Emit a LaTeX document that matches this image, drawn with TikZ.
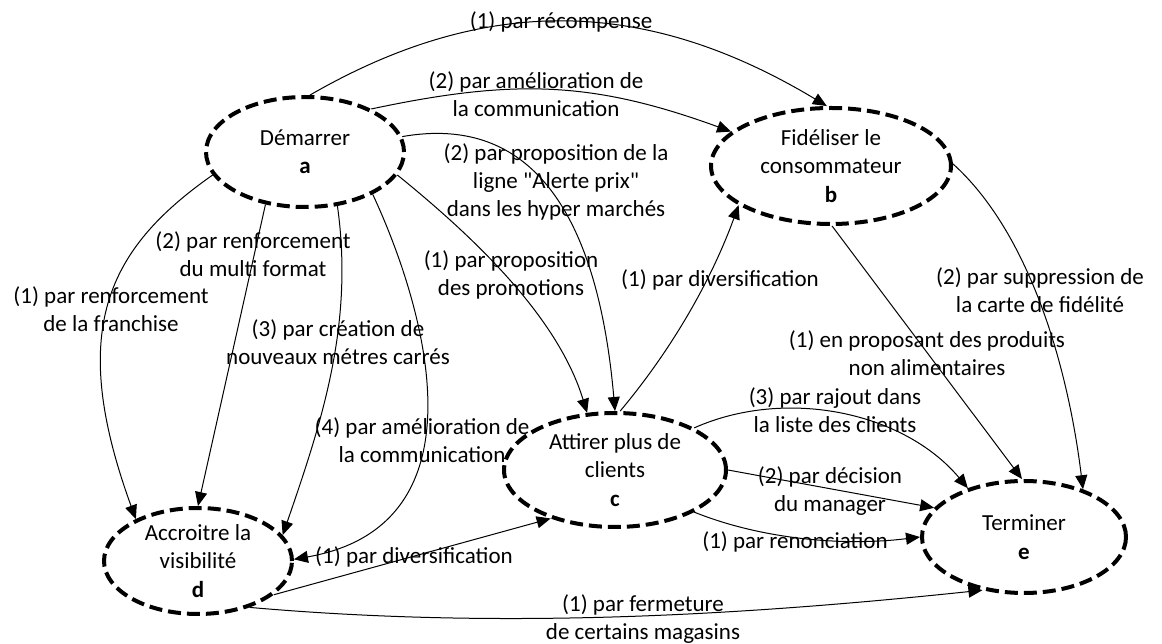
\documentclass[tikz,border=0pt]{standalone}
\usepackage{fontspec}
\setmainfont{Carlito}
\usetikzlibrary{arrows.meta, shapes.geometric}
% straight double quote (bypasses the TeX quote mapping)
\newcommand{\sq}{\XeTeXglyph\XeTeXcharglyph"22 }

\begin{document}
\begin{tikzpicture}[x=0.5pt, y=0.5pt,
    state/.style={ellipse, draw, line width=2pt, dash pattern=on 6.5pt off 3pt,
      inner sep=0pt, align=center, font=\fontsize{11.5pt}{14.2pt}\selectfont},
    lbl/.style={align=center, inner sep=0pt, font=\fontsize{11.5pt}{14.2pt}\selectfont},
    arr/.style={-{Triangle[length=7pt, width=6pt]}, line width=0.5pt}]
  \useasboundingbox (0,0) rectangle (1162,643);
  % states
  \node[state, minimum width=99pt, minimum height=55pt] (a) at (305,491) {Démarrer\\\textbf{a}};
  \node[state, minimum width=120pt, minimum height=58pt] (b) at (831,477) {Fidéliser le\\consommateur\\\textbf{b}};
  \node[state, minimum width=111pt, minimum height=57pt] (c) at (615,173) {Attirer plus de\\clients\\\textbf{c}};
  \node[state, minimum width=94pt, minimum height=53pt] (d) at (198,82) {Accroitre la\\visibilité\\\textbf{d}};
  \node[state, minimum width=102pt, minimum height=56pt] (e) at (1024,106) {Terminer\\\textbf{e}};
  % transitions from a
  \draw[arr] (a.85) .. controls +(30:207) and +(149:207) .. (b.94)
    node[lbl] (r1) at (561,621) {(1) par récompense};
  \draw[arr] (a.33) .. controls +(12:147) and +(160:147) .. (b.161)
    node[lbl] (r2) at (536,549) {(2) par amélioration de\\la communication};
  \draw[arr] (a.9) .. controls +(10:130) and +(95:200) .. (c.90)
    node[lbl] (r3) at (556,461) {(2) par proposition de la\\ligne \sq Alerte prix\sq\\dans les hyper marchés};
  \draw[arr] (a.-14) .. controls +(-39:100) and +(107:100) .. (c.116)
    node[lbl] (r4) at (511,368) {(1) par proposition\\des promotions};
  \draw[arr] (a.194) .. controls +(215:130) and +(110:200) .. (d.146)
    node[lbl] (r5) at (111,334) {(1) par renforcement\\de la franchise};
  \draw[arr] (a.233) -- (d.90)
    node[lbl] (r6) at (253,389) {(2) par renforcement\\du multi format};
  \draw[arr] (a.-59) .. controls +(-82:120) and +(71:120) .. (d.17)
    node[lbl] (r7) at (338,301) {(3) par création de\\nouveaux métres carrés};
  \draw[arr] (a.-32) .. controls +(-65:120) and +(10:200) .. (d.1)
    node[lbl] (r8) at (422,203) {(4) par amélioration de\\la communication};
  % transitions to b and e
  \draw[arr] (c.85) .. controls +(50:80) and +(250:80) .. (b.203)
    node[lbl] (r9) at (720,363) {(1) par diversification};
  \draw[arr] (b.-89) -- (e.92)
    node[lbl] (r10) at (927,290) {(1) en proposant des produits\\non alimentaires};
  \draw[arr] (b.1) .. controls +(-42:100) and +(97:130) .. (e.39)
    node[lbl] (r11) at (1040,353) {(2) par suppression de\\la carte de fidélité};
  \draw[arr] (c.28) .. controls +(24:100) and +(130:100) .. (e.139)
    node[lbl] (r12) at (835,233) {(3) par rajout dans\\la liste des clients};
  \draw[arr] (c.0) -- (e.162)
    node[lbl] (r13) at (830,152) {(2) par décision\\du manager};
  \draw[arr] (c.-28) .. controls +(-22:70) and +(187:80) .. (e.180)
    node[lbl] (r14) at (795,101) {(1) par renonciation};
  \draw[arr] (d.-24) -- (c.217)
    node[lbl] (r15) at (414,86) {(1) par diversification};
  \draw[arr] (d.-42) .. controls +(-5:250) and +(186:250) .. (e.232)
    node[lbl] (r16) at (643,24) {(1) par fermeture\\de certains magasins};
\end{tikzpicture}
\end{document}
